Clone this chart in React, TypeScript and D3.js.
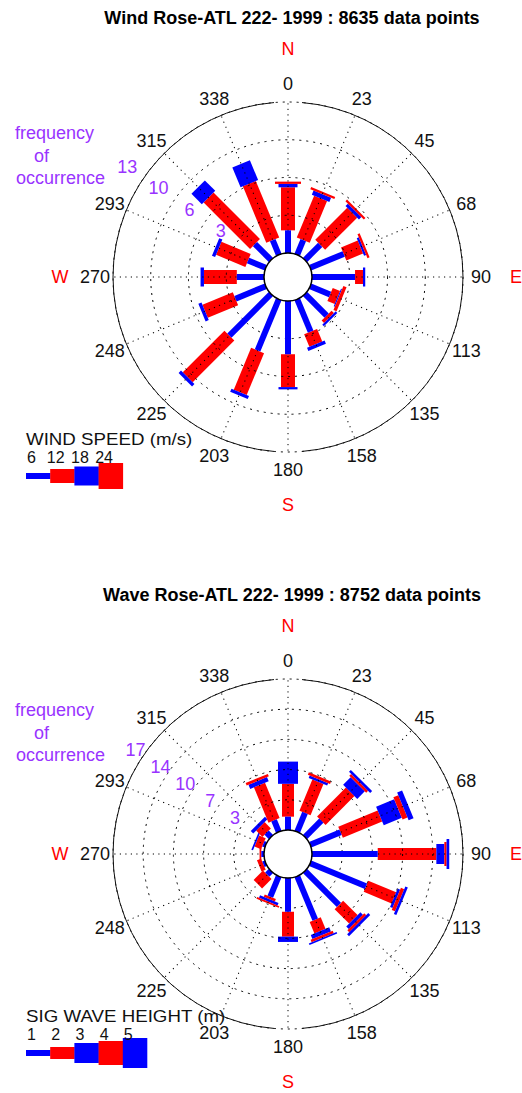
import React, { useEffect, useRef } from "react";
import * as d3 from "d3";

// compass sectors (degrees) and the tick labels around the rim
const directions = [0, 22.5, 45, 67.5, 90, 112.5, 135, 157.5, 180, 202.5, 225, 247.5, 270, 292.5, 315, 337.5];
const directionLabels = ["0", "23", "45", "68", "90", "113", "135", "158", "180", "203", "225", "248", "270", "293", "315", "338"];
const cardinalLabels = ["N", "E", "S", "W"];
const cardinalAngles = [0, 90, 180, 270];

// wind: % of occurrence per sector, one array per speed class
const windClass1 = [2.0, 1.4, 1.9, 3.2, 3.8, 1.9, 2.7, 3.1, 4.7, 4.9, 5.2, 2.9, 2.4, 1.7, 2.0, 1.4];
const windClass2 = [3.8, 4.0, 4.0, 1.6, 0.7, 0.7, 0.3, 1.2, 2.9, 4.0, 5.2, 2.9, 2.9, 2.8, 5.8, 5.4];
const windClass3 = [0.3, 0.4, 0.3, 0.2, 0.2, 0.1, 0.2, 0.3, 0.2, 0.3, 0.3, 0.3, 0.3, 0.3, 1.3, 1.9];
const windClass4 = [0.2, 0.2, 0.2, 0.2, 0, 0.3, 0, 0, 0, 0, 0, 0, 0, 0, 0, 0];
const windSpeedLabels = ["6", "12", "18", "24"];
const windRings = [3.33, 6.67, 10, 13.33];
const windRingLabels = ["3", "6", "10", "13"];

// waves: % of occurrence per sector, one array per height class
const waveClass1 = [1.5, 2.3, 2.6, 3.7, 7.4, 6.8, 5.4, 5.3, 3.8, 2.5, 0.6, 0.3, 0.3, 0.3, 0.7, 1.4];
const waveClass2 = [3.7, 3.8, 4.6, 4.8, 6.6, 3.4, 2.3, 1.4, 2.8, 0.3, 1.5, 0.5, 0.2, 0.8, 1.0, 4.3];
const waveClass3 = [2.5, 0.3, 1.2, 2.2, 0.9, 0.3, 0.4, 0.5, 0.6, 0.3, 0, 0, 0, 0.2, 0.4, 0.5];
const waveClass4 = [0, 0.3, 0.3, 0.6, 0.25, 0.4, 0.3, 0.3, 0, 0.2, 0, 0, 0, 0, 0, 0.3];
const waveClass5 = [0, 0, 0.3, 0.6, 0.3, 0.3, 0.3, 0.2, 0, 0, 0, 0, 0, 0, 0, 0];
const waveHeightLabels = ["1", "2", "3", "4", "5"];
const waveRings = [3.4, 6.8, 10.2, 13.6, 17];
const waveRingLabels = ["3", "7", "10", "14", "17"];

const FONT = "'Liberation Sans', Arial, sans-serif";
const RED = "#ff0000";
const BLUE = "#0000ff";
const PURPLE = "#9933ff";

type RoseCfg = {
  cy: number;
  title: string;
  classes: number[][];
  widths: number[];
  colors: string[];
  maxFreq: number;
  rings: number[];
  ringLabels: string[];
  ringPad: number;
  legendTitle: string;
  legendLabels: string[];
};

function drawRose(svg: any, cfg: RoseCfg) {
  const cx = 288, hub = 24, outer = 175;
  const r = d3.scaleLinear().domain([0, cfg.maxFreq]).range([hub, outer]);
  const root = svg.append("g");
  const g = root.append("g").attr("transform", `translate(${cx},${cfg.cy})`);
  const polar = (rad: number, deg: number) => {
    const a = (deg * Math.PI) / 180;
    return [rad * Math.sin(a), -rad * Math.cos(a)];
  };

  // stacked segments, one per class, each starting where the previous ends
  const segs: any[] = [];
  directions.forEach((dir, i) => {
    let cum = 0;
    cfg.classes.forEach((vals, k) => {
      const v = vals[i];
      if (v > 0) segs.push({ dir, k, r0: r(cum), r1: r(cum + v) });
      cum += v;
    });
  });
  const drawSegs = (list: any[]) =>
    g.append("g")
      .selectAll("rect")
      .data(list)
      .join("rect")
      .attr("transform", (d: any) => `rotate(${d.dir})`)
      .attr("x", (d: any) => -cfg.widths[d.k] / 2)
      .attr("y", (d: any) => -d.r1)
      .attr("width", (d: any) => cfg.widths[d.k])
      .attr("height", (d: any) => d.r1 - d.r0)
      .attr("fill", (d: any) => cfg.colors[d.k]);

  drawSegs(segs.filter(d => d.k > 0));

  // dotted grid
  g.append("g").selectAll("circle").data(cfg.rings).join("circle")
    .attr("r", d => r(d))
    .attr("fill", "none").attr("stroke", "#000").attr("stroke-width", 1)
    .attr("stroke-dasharray", "2 5");
  g.append("g").selectAll("line").data(directions).join("line")
    .attr("transform", d => `rotate(${d})`)
    .attr("y1", -hub).attr("y2", -outer)
    .attr("stroke", "#000").attr("stroke-width", 1)
    .attr("stroke-dasharray", "1.2 4.3");

  drawSegs(segs.filter(d => d.k === 0));

  // calm hub
  g.append("circle").attr("r", hub).attr("fill", "#fff").attr("stroke", "#000").attr("stroke-width", 1.5);

  // outer rim, broken at N and S
  const gap = Math.asin(14 / outer);
  const rim = d3.path();
  rim.arc(0, 0, outer, -Math.PI / 2 + gap, Math.PI / 2 - gap);
  rim.moveTo(outer * Math.cos(Math.PI / 2 + gap), outer * Math.sin(Math.PI / 2 + gap));
  rim.arc(0, 0, outer, Math.PI / 2 + gap, (3 * Math.PI) / 2 - gap);
  g.append("path").attr("d", rim.toString()).attr("fill", "none").attr("stroke", "#111").attr("stroke-width", 1);

  // rim labels
  g.append("g").selectAll("text").data(directions).join("text")
    .attr("x", d => polar(193, d)[0]).attr("y", d => polar(193, d)[1])
    .attr("dy", "0.36em").attr("text-anchor", "middle")
    .attr("font-family", FONT).attr("font-size", 18).attr("fill", "#111")
    .text((d, i) => directionLabels[i]);
  g.append("g").selectAll("text").data(cardinalAngles).join("text")
    .attr("x", d => polar(228, d)[0]).attr("y", d => polar(228, d)[1])
    .attr("dy", "0.36em").attr("text-anchor", "middle")
    .attr("font-family", FONT).attr("font-size", 18).attr("fill", RED)
    .text((d, i) => cardinalLabels[i]);

  // frequency ring labels
  g.append("g").selectAll("text").data(cfg.rings).join("text")
    .attr("x", d => polar(r(d) + cfg.ringPad, 304.5)[0])
    .attr("y", d => polar(r(d) + cfg.ringPad, 304.5)[1])
    .attr("dy", "0.36em").attr("text-anchor", "middle")
    .attr("font-family", FONT).attr("font-size", 18).attr("fill", PURPLE)
    .text((d, i) => cfg.ringLabels[i]);

  const freq = root.append("g").attr("font-family", FONT).attr("font-size", 18).attr("fill", PURPLE);
  freq.append("text").attr("x", 15).attr("y", cfg.cy - 138).text("frequency");
  freq.append("text").attr("x", 34).attr("y", cfg.cy - 115).text("of");
  freq.append("text").attr("x", 16).attr("y", cfg.cy - 93).text("occurrence");

  // title
  root.append("text")
    .attr("x", 292).attr("y", cfg.cy - 253)
    .attr("text-anchor", "middle").attr("font-family", FONT)
    .attr("font-size", 18).attr("font-weight", "bold").attr("fill", "#000")
    .text(cfg.title);

  // legend
  const lx = 26, segLen = 24.2;
  root.append("text")
    .attr("transform", `translate(${lx},${cfg.cy + 168}) scale(1.17,1)`)
    .attr("font-family", FONT).attr("font-size", 16).attr("fill", "#111")
    .text(cfg.legendTitle);
  root.append("g").selectAll("rect").data(cfg.widths).join("rect")
    .attr("x", (d, i) => lx + i * segLen)
    .attr("y", d => cfg.cy + 199 - d / 2)
    .attr("width", segLen + 0.3)
    .attr("height", d => d)
    .attr("fill", (d, i) => cfg.colors[i]);
  root.append("g").selectAll("text").data(cfg.legendLabels).join("text")
    .attr("x", (d, i) => lx + i * segLen + 5.5)
    .attr("y", cfg.cy + 186)
    .attr("text-anchor", "middle")
    .attr("font-family", FONT).attr("font-size", 16).attr("fill", "#111")
    .text(d => d);
}

export default function App() {
  const ref = useRef<SVGSVGElement>(null);

  useEffect(() => {
    const svg = d3.select(ref.current);
    svg.selectAll("*").remove();

    drawRose(svg, {
      cy: 277,
      title: "Wind Rose-ATL 222- 1999 : 8635 data points",
      classes: [windClass1, windClass2, windClass3, windClass4],
      widths: [6, 14, 19, 26],
      colors: [BLUE, RED, BLUE, RED],
      maxFreq: 13.33,
      rings: windRings,
      ringLabels: windRingLabels,
      ringPad: 20,
      legendTitle: "WIND SPEED (m/s)",
      legendLabels: windSpeedLabels,
    });

    drawRose(svg, {
      cy: 854,
      title: "Wave Rose-ATL 222- 1999 : 8752 data points",
      classes: [waveClass1, waveClass2, waveClass3, waveClass4, waveClass5],
      widths: [6, 12, 20, 24, 30],
      colors: [BLUE, RED, BLUE, RED, BLUE],
      maxFreq: 17,
      rings: waveRings,
      ringLabels: waveRingLabels,
      ringPad: 10,
      legendTitle: "SIG WAVE HEIGHT (m)",
      legendLabels: waveHeightLabels,
    });
  }, []);

  return (
    <svg
      ref={ref}
      width={522}
      height={1093}
      style={{ position: "absolute", left: 0, top: 0, display: "block", background: "#fff" }}
    />
  );
}
